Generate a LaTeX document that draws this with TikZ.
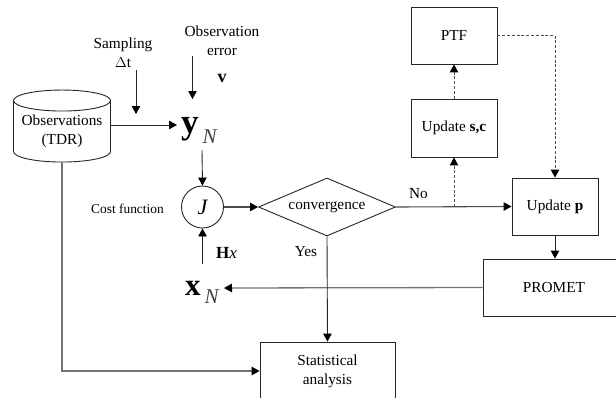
\documentclass[tikz,border=0pt]{standalone}
\usepackage{fontspec}
\setmainfont{Liberation Serif}
\usetikzlibrary{arrows.meta,shapes.geometric}
\tikzset{
  x=1pt,y=-1pt,
  lbl/.style={inner sep=0pt,align=center,font=\fontsize{15.3}{19}\selectfont},
  lblsm/.style={inner sep=0pt,align=center,font=\fontsize{13.4}{17}\selectfont},
  boxn/.style={draw=black!85,line width=0.9pt,inner sep=0pt,align=center,font=\fontsize{15.3}{19}\selectfont},
  cyl/.style={boxn,cylinder,shape border rotate=90,aspect=0.26,minimum width=97pt,minimum height=72pt},
  dia/.style={boxn,diamond,shape aspect=2.36,minimum width=137pt,minimum height=58pt},
  circ/.style={boxn,circle,minimum size=42pt,font=\fontsize{22}{22}\selectfont\itshape},
  bigvar/.style={inner sep=0pt,anchor=base west},
  arr/.style={line width=0.9pt,draw=black!85,-{Triangle[length=8pt,width=8.5pt,color=black,fill=black]}},
  arrdash/.style={arr,dash pattern=on 3pt off 1.8pt,draw=black!70,line width=1pt},
  thickgrey/.style={draw=black!55,line width=1.3pt},
}
\begin{document}
\begin{tikzpicture}
\useasboundingbox (0,0) rectangle (616,397);
\clip (0,0) rectangle (616,397);
\node[cyl] (obs) at (62,131.5) {Observations\\(TDR)};
\node[bigvar] (yN) at (181,133) {\fontsize{35}{35}\selectfont\bfseries y\hspace{4pt}\raisebox{-10pt}{\fontsize{21}{21}\selectfont\mdseries\itshape\color{black!75}N}};
\node[bigvar] (xN) at (185,295) {\fontsize{31}{31}\selectfont\bfseries x\hspace{4pt}\raisebox{-8pt}{\fontsize{21}{21}\selectfont\mdseries\itshape\color{black!75}N}};
\node[circ] (J) at (202.5,207) {J};
\node[dia] (conv) at (327,207) {convergence};
\node[boxn,minimum width=86pt,minimum height=57pt] (ptf) at (454,35.5) {PTF};
\node[boxn,minimum width=86pt,minimum height=58pt] (upds) at (454,128) {Update \textbf{s,c}};
\node[boxn,minimum width=86pt,minimum height=57pt] (updp) at (555,206.5) {Update \textbf{p}};
\node[boxn,minimum width=142pt,minimum height=57pt] (promet) at (554,287.5) {PROMET};
\node[boxn,minimum width=135pt,minimum height=58pt] (stat) at (327.5,371) {Statistical\\analysis};
\node[lbl] (samp) at (123,53) {Sampling\\$\Delta$t};
\node[lbl] (oerr) at (222,40.5) {Observation\\error};
\node[lbl,font=\fontsize{18}{18}\selectfont] (v) at (222,78) {\textbf{v}};
\node[lblsm] (cost) at (127.5,209) {Cost function};
\node[lbl,font=\fontsize{17}{17}\selectfont] (hx) at (226.5,253) {\textbf{H}\textit{x}};
\node[lbl] (no) at (418.5,194) {No};
\node[lbl] (yes) at (306,252) {Yes};
\coordinate (a1) at (136,70);
\coordinate (a2) at (136,114);
\coordinate (b1) at (192.5,56);
\coordinate (b2) at (192.5,99);
\coordinate (c1) at (202,150);
\coordinate (d1) at (202.5,264);
\coordinate (e1) at (224,288);
\coordinate (e2) at (177,125);
\coordinate (f1) at (454,207);
\draw[arr] (a1) -- (a2);
\draw[arr] (b1) -- (b2);
\draw[arr] (obs.east |- e2) -- (e2);
\draw[arr] (c1) -- (J.north);
\draw[arr] (d1) -- (J.south);
\draw[arr,draw=black!70,line width=1.1pt] (J.east) -- (conv.west);
\draw[arr,draw=black!70,line width=1.1pt] (conv.east) -- (updp.west);
\draw[arrdash] (f1) -- (upds.south);
\draw[arrdash] (upds.north) -- (ptf.south);
\draw[arrdash] (ptf.east) -| (updp.north);
\draw[arr] (updp.south) -- (updp.south |- promet.north);
\draw[arr,thickgrey] (promet.west) -- (e1);
\draw[arr] (conv.south) -- (stat.north);
\draw[arr,thickgrey] (obs.south) |- (stat.west);
\end{tikzpicture}
\end{document}
